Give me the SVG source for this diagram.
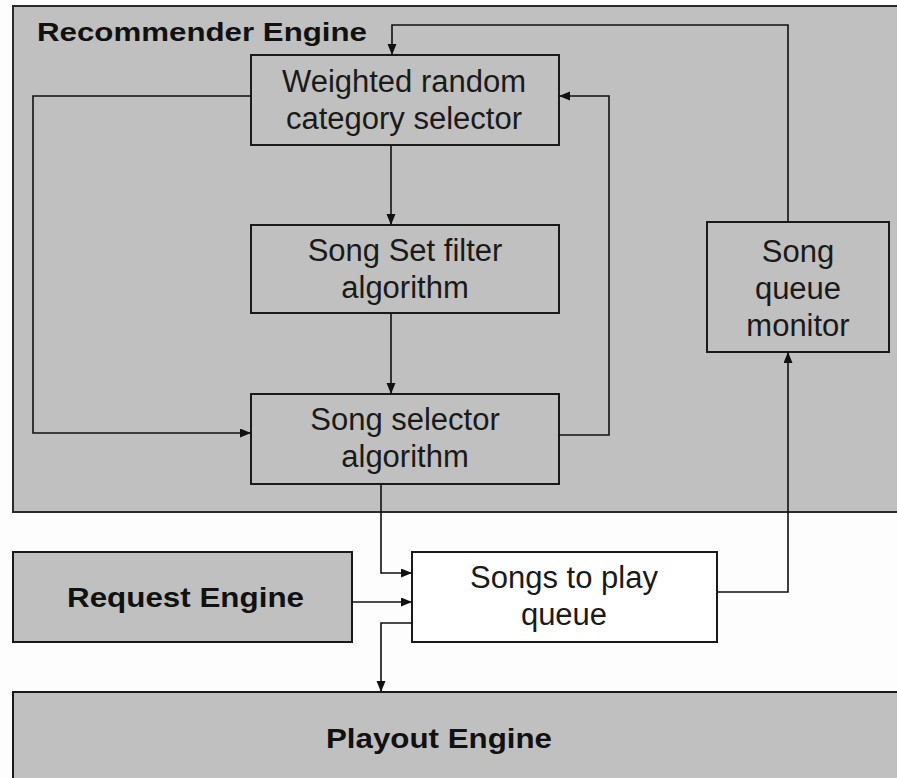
<svg xmlns="http://www.w3.org/2000/svg" width="897" height="778" viewBox="0 0 897 778">
<style>
.bg{fill:#fdfdfd}
.grp{fill:#c0c0c0;stroke:#2a2a2a;stroke-width:2}
.box{fill:#c0c0c0;stroke:#1a1a1a;stroke-width:2}
.wbox{fill:#ffffff;stroke:#1a1a1a;stroke-width:2}
.t{font-family:"Liberation Sans",Arial,sans-serif;font-size:31px;fill:#1a1a1a;text-anchor:middle}
.b{font-family:"Liberation Sans",Arial,sans-serif;font-weight:bold;fill:#111}
.c{fill:none;stroke:#111;stroke-width:1.6;marker-end:url(#ah)}
</style>
<defs>
<marker id="ah" markerUnits="userSpaceOnUse" markerWidth="12" markerHeight="10" refX="11" refY="4.5" orient="auto">
<path d="M0,0 L11,4.5 L0,9 z" fill="#111"/>
</marker>
</defs>
<rect class="bg" x="0" y="0" width="897" height="778"/>
<g id="recommender-engine">
<rect class="grp" x="13" y="6" width="900" height="506"/>
<text class="b" x="37" y="41" font-size="26" textLength="330" lengthAdjust="spacingAndGlyphs">Recommender Engine</text>
</g>
<g id="weighted-random">
<rect class="box" x="251" y="55" width="308" height="90"/>
<text class="t" x="404" y="92">Weighted random</text>
<text class="t" x="404" y="129">category selector</text>
</g>
<g id="song-set-filter">
<rect class="box" x="251" y="225" width="308" height="88"/>
<text class="t" x="405" y="261">Song Set filter</text>
<text class="t" x="405" y="298">algorithm</text>
</g>
<g id="song-selector">
<rect class="box" x="251" y="394" width="308" height="90"/>
<text class="t" x="405" y="430">Song selector</text>
<text class="t" x="405" y="467">algorithm</text>
</g>
<g id="song-queue-monitor">
<rect class="box" x="707" y="222" width="182" height="130"/>
<text class="t" x="798" y="262">Song</text>
<text class="t" x="798" y="299">queue</text>
<text class="t" x="798" y="336">monitor</text>
</g>
<g id="request-engine">
<rect class="box" x="13" y="552" width="339" height="90"/>
<text class="b" x="67" y="607" font-size="27" textLength="237" lengthAdjust="spacingAndGlyphs">Request Engine</text>
</g>
<g id="songs-to-play-queue">
<rect class="wbox" x="412" y="552" width="305" height="90"/>
<text class="t" x="564" y="588">Songs to play</text>
<text class="t" x="564" y="625">queue</text>
</g>
<g id="playout-engine">
<rect class="box" x="13" y="692" width="900" height="100"/>
<text class="b" x="326" y="748" font-size="28" textLength="226" lengthAdjust="spacingAndGlyphs">Playout Engine</text>
</g>
<g id="connectors">
<path class="c" d="M788,222 V25 H392 V55"/>
<path class="c" d="M251,96 H33 V433 H251"/>
<path class="c" d="M559,435 H609 V96 H559"/>
<path class="c" d="M391,145 V225"/>
<path class="c" d="M391,313 V394"/>
<path class="c" d="M381,484 V573 H412"/>
<path class="c" d="M352,602 H412"/>
<path class="c" d="M412,623 H381 V692"/>
<path class="c" d="M717,592 H788 V352"/>
</g>
</svg>
